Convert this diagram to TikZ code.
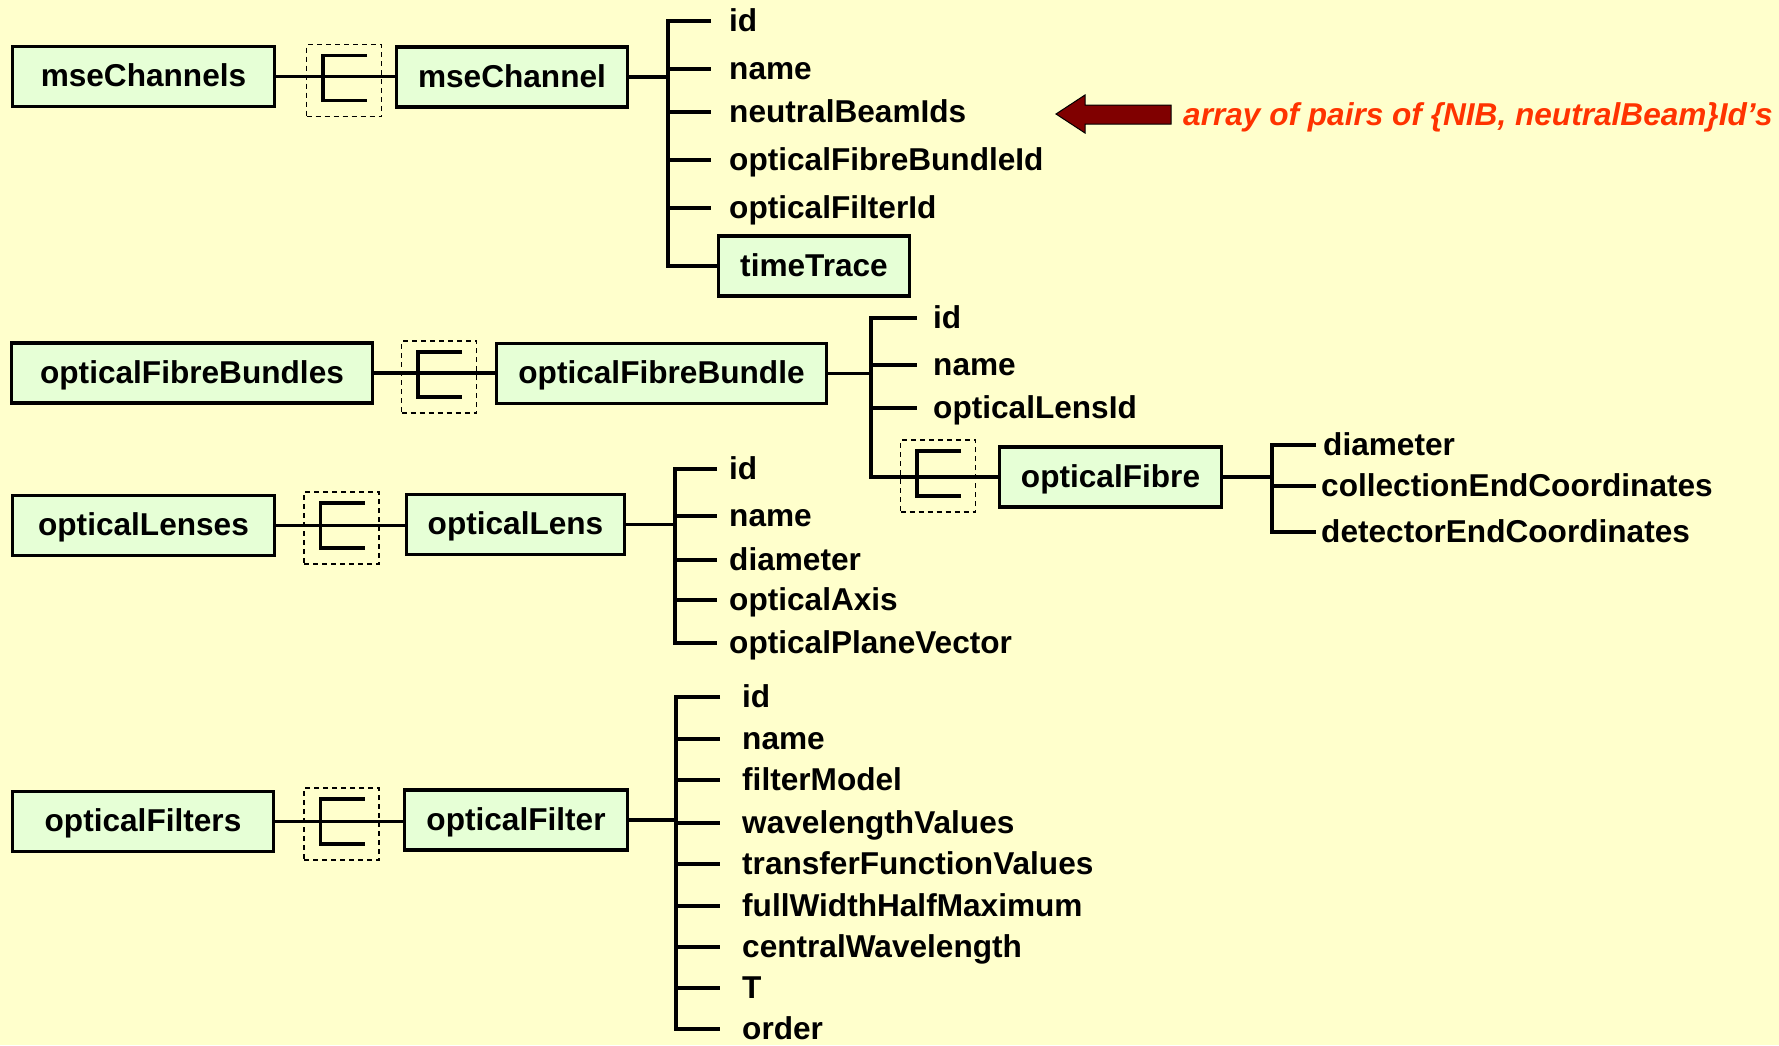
\documentclass[tikz,border=0pt]{standalone}
\usepackage{fontspec}
\setmainfont{Liberation Sans}
\definecolor{bgyellow}{RGB}{255,255,204}
\definecolor{boxgreen}{RGB}{230,255,214}
\definecolor{arrowred}{RGB}{128,0,0}
\definecolor{noteorange}{RGB}{255,51,0}
\begin{document}
\begin{tikzpicture}[x=1pt,y=-1pt]
	\tikzstyle{every node}+=[inner sep=0pt, text height=23pt, text depth=3pt, font=\bfseries\fontsize{31.6}{36}\selectfont]
	\tikzstyle{entity}=[draw=black, line width=3.5pt, fill=boxgreen, minimum height=60pt]
	\tikzstyle{field}=[anchor=west]
	\tikzstyle{tree}=[black, line width=3.5pt]
	\tikzstyle{multbox}=[draw=black, line width=1.3pt, dash pattern=on 5pt off 4pt, minimum width=75pt, minimum height=72pt]
	\useasboundingbox (0,0) rectangle (1779,1045);
	\fill [bgyellow] (0,0) rectangle (1779,1045);
	\coordinate (t1) at (668,0);
	\coordinate (t2) at (871,0);
	\coordinate (t3) at (675,0);
	\coordinate (t4) at (676,0);
	\coordinate (t5) at (1272,0);
	\node [entity, minimum width=262pt] (mseChannels) at (143.5,76.5) {mseChannels};
	\node [multbox] (mult1) at (344,80.5) {};
	\node [entity, minimum width=231pt] (mseChannel) at (512,77) {mseChannel};
	\draw [tree] ([shift={(23,-25)}]mult1.center) -| ([shift={(-21,20)}]mult1.center) -- ++(44,0);
	\draw [tree] (mseChannels.east) -- (mseChannels.east -| mseChannel.west);
	\node [field, inner xsep=18pt] (chId) at (711,21) {id};
	\node [field, inner xsep=18pt] (chName) at (711,69) {name};
	\node [field, inner xsep=18pt] (chBeams) at (711,112) {neutralBeamIds};
	\node [field, inner xsep=18pt] (chBundle) at (711,160) {opticalFibreBundleId};
	\node [field, inner xsep=18pt] (chFilter) at (711,208) {opticalFilterId};
	\node [entity, minimum width=191pt] (timeTrace) at (814,266) {timeTrace};
	\draw [tree] (mseChannel.east) -- (mseChannel.east -| t1);
	\draw [tree] (chId.west) -- (chId.west -| t1) |- (timeTrace.west);
	\draw [tree] (chName.west -| t1) -- (chName.west);
	\draw [tree] (chBeams.west -| t1) -- (chBeams.west);
	\draw [tree] (chBundle.west -| t1) -- (chBundle.west);
	\draw [tree] (chFilter.west -| t1) -- (chFilter.west);
	\node [anchor=west, text=noteorange, font=\bfseries\itshape\fontsize{31.6}{36}\selectfont] (note) at (1183,115) {array of pairs of \{NIB, neutralBeam\}Id’s};
	\filldraw [fill=arrowred, draw=black, line width=1pt] ([shift={(-12,-10)}]note.west) -- ([shift={(-98,-10)}]note.west) -- ([shift={(-98,-20)}]note.west) -- ([shift={(-127,-1)}]note.west) -- ([shift={(-98,18)}]note.west) -- ([shift={(-98,9)}]note.west) -- ([shift={(-12,9)}]note.west) -- cycle;
	\node [entity, minimum width=361pt] (opticalFibreBundles) at (192,373) {opticalFibreBundles};
	\node [multbox] (mult2) at (439,377) {};
	\node [entity, minimum width=330pt] (opticalFibreBundle) at (661.5,373.5) {opticalFibreBundle};
	\draw [tree] ([shift={(23,-25)}]mult2.center) -| ([shift={(-21,20)}]mult2.center) -- ++(44,0);
	\draw [tree] (opticalFibreBundles.east) -- (opticalFibreBundles.east -| opticalFibreBundle.west);
	\node [field, inner xsep=16pt] (fbId) at (917,318) {id};
	\node [field, inner xsep=16pt] (fbName) at (917,365) {name};
	\node [field, inner xsep=16pt] (fbLens) at (917,408) {opticalLensId};
	\node [multbox] (mult5) at (938,476) {};
	\node [entity, minimum width=222pt] (opticalFibre) at (1110.5,477) {opticalFibre};
	\draw [tree] ([shift={(23,-25)}]mult5.center) -| ([shift={(-21,20)}]mult5.center) -- ++(44,0);
	\draw [tree] (opticalFibreBundle.east) -- (opticalFibreBundle.east -| t2);
	\draw [tree] (fbId.west) -- (fbId.west -| t2) |- (opticalFibre.west);
	\draw [tree] (fbName.west -| t2) -- (fbName.west);
	\draw [tree] (fbLens.west -| t2) -- (fbLens.west);
	\node [field, inner xsep=7pt] (fDia) at (1316,445) {diameter};
	\node [field, inner xsep=5pt] (fColl) at (1316,486) {collectionEndCoordinates};
	\node [field, inner xsep=5pt] (fDet) at (1316,532) {detectorEndCoordinates};
	\draw [tree] (opticalFibre.east) -- (opticalFibre.east -| t5);
	\draw [tree] (fDia.west) -- (fDia.west -| t5) |- (fDet.west);
	\draw [tree] (fColl.west -| t5) -- (fColl.west);
	\node [entity, minimum width=262pt] (opticalLenses) at (143.5,525.5) {opticalLenses};
	\node [multbox] (mult3) at (341.5,528) {};
	\node [entity, minimum width=218pt] (opticalLens) at (515.5,524.5) {opticalLens};
	\draw [tree] ([shift={(23,-25)}]mult3.center) -| ([shift={(-21,20)}]mult3.center) -- ++(44,0);
	\draw [tree] (opticalLenses.east) -- (opticalLenses.east -| opticalLens.west);
	\node [field, inner xsep=12pt] (lId) at (717,469) {id};
	\node [field, inner xsep=12pt] (lName) at (717,516) {name};
	\node [field, inner xsep=12pt] (lDia) at (717,560) {diameter};
	\node [field, inner xsep=12pt] (lAxis) at (717,600) {opticalAxis};
	\node [field, inner xsep=12pt] (lPlane) at (717,643) {opticalPlaneVector};
	\draw [tree] (opticalLens.east) -- (opticalLens.east -| t3);
	\draw [tree] (lId.west) -- (lId.west -| t3) |- (lPlane.west);
	\draw [tree] (lName.west -| t3) -- (lName.west);
	\draw [tree] (lDia.west -| t3) -- (lDia.west);
	\draw [tree] (lAxis.west -| t3) -- (lAxis.west);
	\node [entity, minimum width=261pt] (opticalFilters) at (143,821.5) {opticalFilters};
	\node [multbox] (mult4) at (341.5,824) {};
	\node [entity, minimum width=223pt] (opticalFilter) at (516,820) {opticalFilter};
	\draw [tree] ([shift={(23,-25)}]mult4.center) -| ([shift={(-21,20)}]mult4.center) -- ++(44,0);
	\draw [tree] (opticalFilters.east) -- (opticalFilters.east -| opticalFilter.west);
	\node [field, inner xsep=22pt] (fiId) at (720,697) {id};
	\node [field, inner xsep=22pt] (fiName) at (720,739) {name};
	\node [field, inner xsep=22pt] (fiModel) at (720,780) {filterModel};
	\node [field, inner xsep=22pt] (fiWave) at (720,823) {wavelengthValues};
	\node [field, inner xsep=22pt] (fiTrans) at (720,864) {transferFunctionValues};
	\node [field, inner xsep=22pt] (fiFwhm) at (720,906) {fullWidthHalfMaximum};
	\node [field, inner xsep=22pt] (fiCentral) at (720,947) {centralWavelength};
	\node [field, inner xsep=22pt] (fiT) at (720,988) {T};
	\node [field, inner xsep=22pt] (fiOrder) at (720,1029) {order};
	\draw [tree] (opticalFilter.east) -- (opticalFilter.east -| t4);
	\draw [tree] (fiId.west) -- (fiId.west -| t4) |- (fiOrder.west);
	\draw [tree] (fiName.west -| t4) -- (fiName.west);
	\draw [tree] (fiModel.west -| t4) -- (fiModel.west);
	\draw [tree] (fiWave.west -| t4) -- (fiWave.west);
	\draw [tree] (fiTrans.west -| t4) -- (fiTrans.west);
	\draw [tree] (fiFwhm.west -| t4) -- (fiFwhm.west);
	\draw [tree] (fiCentral.west -| t4) -- (fiCentral.west);
	\draw [tree] (fiT.west -| t4) -- (fiT.west);
\end{tikzpicture}
\end{document}
